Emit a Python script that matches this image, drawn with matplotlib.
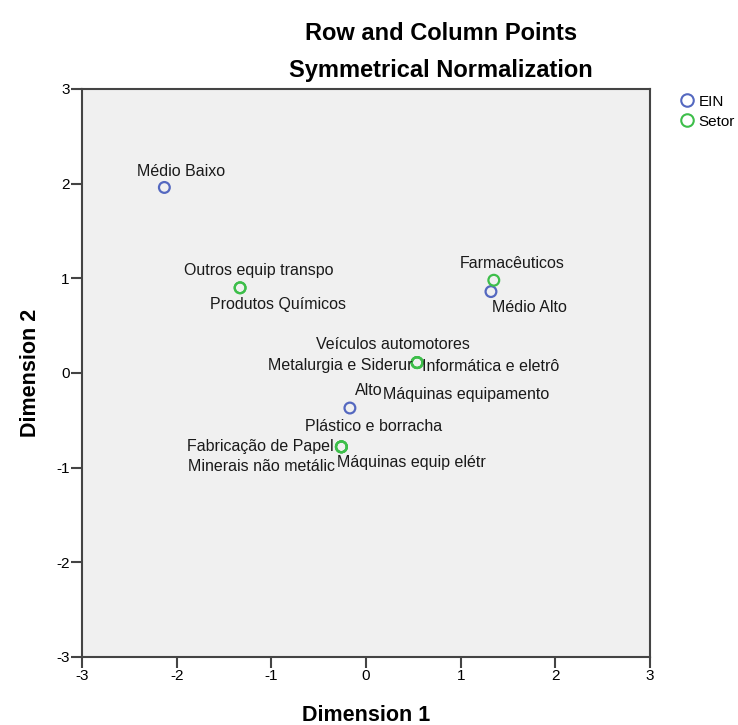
import matplotlib
matplotlib.use("Agg")
import matplotlib.pyplot as plt
from matplotlib.lines import Line2D

plt.rcParams['font.family'] = ['Liberation Sans', 'DejaVu Sans']

# Row points (EIN)
ein_labels = ["Médio Baixo", "Médio Alto", "Alto"]
ein_x = [-2.13, 1.32, -0.17]
ein_y = [1.96, 0.86, -0.37]

# Column points (Setor)
setor_labels = ["Outros equip transpo", "Produtos Químicos", "Farmacêuticos",
                "Veículos automotores", "Metalurgia e Siderur", "Informática e eletrô",
                "Máquinas equipamento", "Plástico e borracha", "Fabricação de Papel",
                "Minerais não metálic", "Máquinas equip elétr"]
setor_x = [-1.33, -1.33, 1.35, 0.54, 0.54, 0.54, 0.54, -0.26, -0.26, -0.26, -0.26]
setor_y = [0.90, 0.90, 0.98, 0.11, 0.11, 0.11, 0.11, -0.78, -0.78, -0.78, -0.78]

ticks = [-3, -2, -1, 0, 1, 2, 3]

# label placement (pixel offsets, alignment)
ein_place = [((17, 16), 'center'), ((38, -16), 'center'), ((5, 18), 'left')]
setor_place = [((19, 17), 'center'), ((38, -17), 'center'), ((18, 17), 'center'),
               ((-24, 18), 'center'), ((-5, -3), 'right'), ((5, -4), 'left'),
               ((-34, -32), 'left'), ((32, 20), 'center'), ((-8, 0), 'right'),
               ((-6, -20), 'right'), ((-4, -16), 'left')]

blue = '#5468C0'
green = '#3DBE4A'

fig = plt.figure(figsize=(7.38, 7.25), dpi=100)
ax = fig.add_axes([82/738, 1-657/725, (650-82)/738, (657-89)/725])
ax.set_facecolor('#F0F0F0')

ax.scatter(ein_x, ein_y, s=60, facecolors='none', edgecolors=blue, linewidths=1.6, zorder=3)
ax.scatter(setor_x, setor_y, s=60, facecolors='none', edgecolors=green, linewidths=1.6, zorder=3)

for lab, x, y, (off, ha) in zip(ein_labels, ein_x, ein_y, ein_place):
    ax.annotate(lab, (x, y), xytext=off, textcoords='offset pixels', ha=ha, va='center',
                fontsize=11.5, color='#1a1a1a')
for lab, x, y, (off, ha) in zip(setor_labels, setor_x, setor_y, setor_place):
    ax.annotate(lab, (x, y), xytext=off, textcoords='offset pixels', ha=ha, va='center',
                fontsize=11.5, color='#1a1a1a')

ax.set_xlim(-3, 3)
ax.set_ylim(-3, 3)
ax.set_xticks(ticks)
ax.set_yticks(ticks)
ax.set_xticklabels([str(t) for t in ticks])
ax.set_yticklabels([str(t) for t in ticks])
ax.tick_params(direction='out', length=8, width=1.5, color='#444444', labelsize=11, pad=1)
for sp in ax.spines.values():
    sp.set_color('#444444')
    sp.set_linewidth(1.5)

ax.set_xlabel('Dimension 1', fontsize=15.5, fontweight='bold')
ax.set_ylabel('Dimension 2', fontsize=15.5, fontweight='bold')
ax.xaxis.set_label_coords(0.5, -0.085)
ax.yaxis.set_label_coords(-0.073, 0.5)

fig.text(441/738, 1-33/725, 'Row and Column Points', ha='center', va='center',
         fontsize=17, fontweight='bold')
fig.text(441/738, 1-70/725, 'Symmetrical Normalization', ha='center', va='center',
         fontsize=17, fontweight='bold')

handles = [Line2D([], [], marker='o', linestyle='none', markersize=9, markerfacecolor='none',
                  markeredgecolor=blue, markeredgewidth=1.5),
           Line2D([], [], marker='o', linestyle='none', markersize=9, markerfacecolor='none',
                  markeredgecolor=green, markeredgewidth=1.5)]
fig.legend(handles, ['EIN', 'Setor'], loc='upper left', bbox_to_anchor=(668/738, 1-87/725),
           frameon=False, fontsize=11, handletextpad=0.0, labelspacing=0.4,
           handlelength=1.5, borderpad=0)

fig.savefig('out.png', dpi=100)
